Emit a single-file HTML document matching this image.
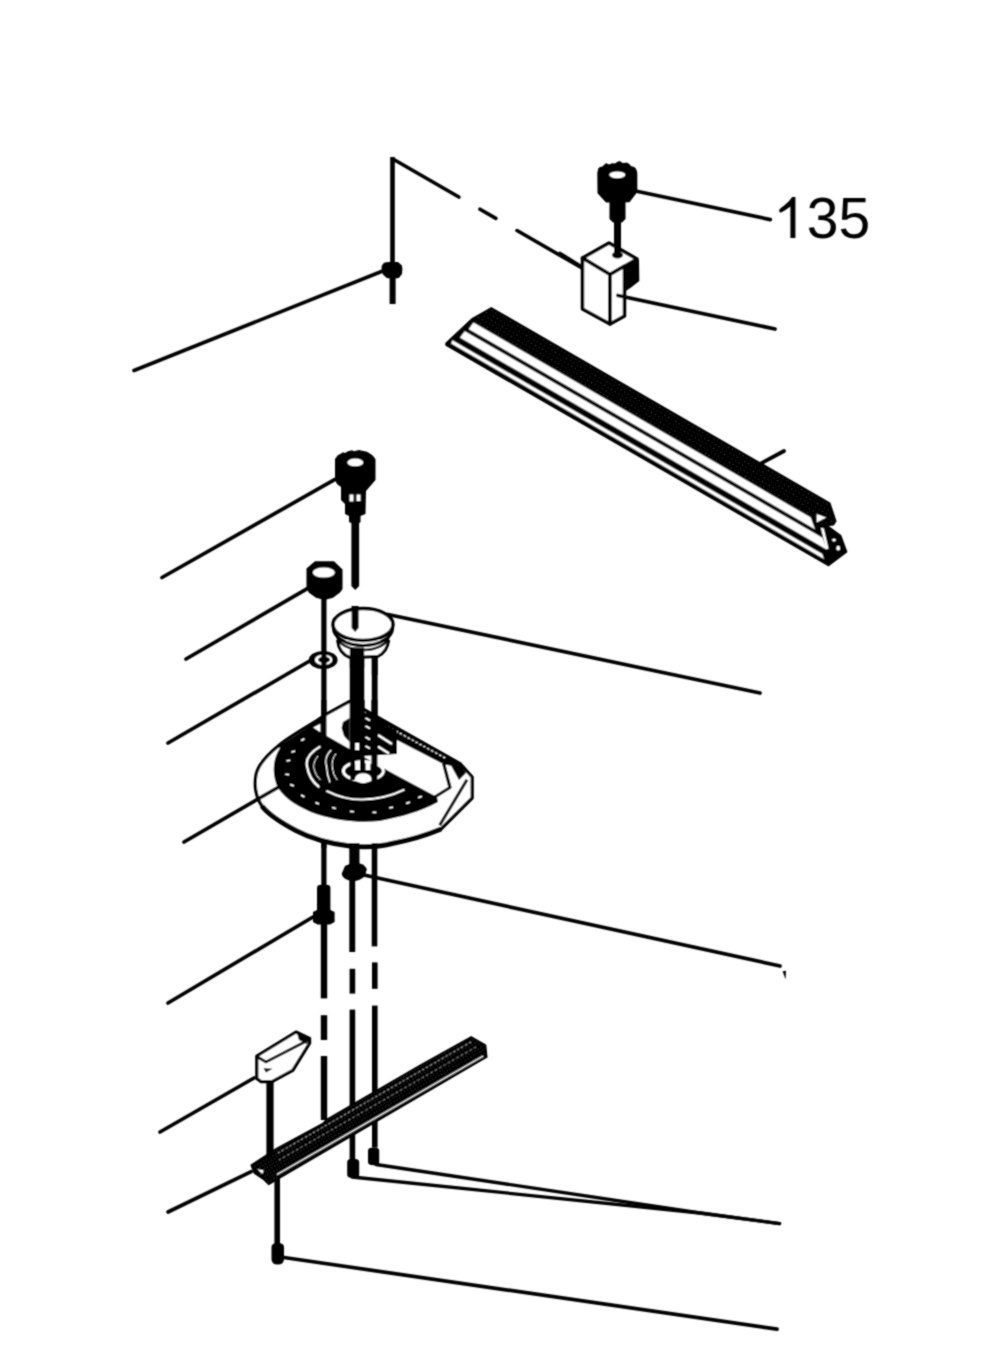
<!DOCTYPE html>
<html><head><meta charset="utf-8"><style>
html,body{margin:0;padding:0;background:#fff;}
svg{display:block;}
</style></head><body>
<svg width="1000" height="1362" viewBox="0 0 1000 1362">
<defs>
<filter id="soft" x="0" y="0" width="1000" height="1362" filterUnits="userSpaceOnUse"><feConvolveMatrix order="3" kernelMatrix="1 2 1 2 8 2 1 2 1" divisor="20" edgeMode="duplicate"/></filter>
<pattern id="stip" width="4.2" height="4.2" patternUnits="userSpaceOnUse" patternTransform="rotate(30)">
<rect width="4.2" height="4.2" fill="#000"/><circle cx="2.1" cy="2.1" r="0.6" fill="#363636"/></pattern>
<pattern id="stip2" width="3.4" height="3.4" patternUnits="userSpaceOnUse" patternTransform="rotate(-30)">
<rect width="3.4" height="3.4" fill="#000"/><circle cx="1.7" cy="1.7" r="0.6" fill="#444"/></pattern>
</defs>
<rect width="1000" height="1362" fill="#fff"/>
<g filter="url(#soft)">
<rect x="390.2" y="157" width="4.6" height="110" fill="#000"/>
<rect x="389.6" y="270" width="6" height="34" fill="#000"/>
<path d="M392.5,158.8 L582,268" stroke="#000" stroke-width="3.6" fill="none" stroke-linecap="round" stroke-dasharray="76.6 24.4 18.3 24.4 200"/>
<line x1="134" y1="370.5" x2="384" y2="270.5" stroke="#000" stroke-width="3.6" stroke-linecap="round" />
<polygon points="381.6,266.0 384.0,262.8 388.0,262.0 398.0,262.0 401.6,265.2 402.4,268.0 402.0,274.0 398.8,278.0 392.4,278.8 386.8,278.0 383.2,274.8 381.6,271.6" fill="#000" />
<polygon points="597.3,173.0 598.2,168.5 600.0,167.0 602.5,166.4 604.5,164.6 606.2,163.0 608.0,164.3 610.0,164.2 612.0,163.3 615.0,163.4 617.5,161.8 620.0,160.9 622.0,162.8 624.5,163.0 626.5,162.6 629.0,163.8 631.2,166.2 633.5,166.8 635.5,168.0 637.0,171.2 637.3,174.0 637.3,192.0 629.5,202.3 606.0,202.5 597.5,193.2" fill="#000" />
<ellipse cx="617.3" cy="174.8" rx="8" ry="3.4" fill="#fff"/>
<path d="M609.5,201 L625.5,201 L625.5,219 L622,222.5 L613,222.5 L609.5,219 Z" fill="#000"/>
<rect x="614" y="221" width="7" height="34" fill="#000"/>
<line x1="636.8" y1="191.3" x2="770.3" y2="219.6" stroke="#000" stroke-width="3.7" stroke-linecap="round" />
<path d="M790.4,238 L790.4,206.5 Q786,210 781.5,212.3 Q778.6,213 779.3,209.8 Q780.6,207.8 784.5,205.2 Q789.2,201.8 792.2,197 L795.4,197 L795.4,238 Z" fill="#000"/>
<text x="806.7" y="237.5" font-family="Liberation Sans, sans-serif" font-size="57" fill="#000">35</text>
<path d="M582.5,258 L609,243 L637,259 L610,274.5 Z" fill="#fff" stroke="#000" stroke-width="3.5" stroke-linejoin="round"/>
<path d="M582.5,258 L610,274.5 L610,324 L582.5,309 Z" fill="#fff" stroke="#000" stroke-width="3.5" stroke-linejoin="round"/>
<path d="M610,274.5 L624.5,266 L624.5,316 L610,324 Z" fill="#fff" stroke="#000" stroke-width="3.5" stroke-linejoin="round"/>
<polygon points="624.0,266.5 637.0,259.0 639.0,260.0 639.3,281.0 631.0,287.5 626.5,290.5 624.0,291.0" fill="#000" />
<ellipse cx="617.5" cy="255" rx="5.5" ry="3.5" fill="#000"/>
<rect x="614" y="240" width="7" height="15" fill="#000"/>
<line x1="560" y1="253.5" x2="581" y2="266.5" stroke="#000" stroke-width="3.7" stroke-linecap="round" />
<line x1="618" y1="295.5" x2="775" y2="329" stroke="#000" stroke-width="3.7" stroke-linecap="round" />
<polygon points="491.3,307.8 829.8,503.2 835.8,521.2 833.4,524.8 827.0,525.5 840.6,535.6 846.6,551.8 828.6,565.5 446.0,345.1 446.0,343.2 472.4,318.6" fill="url(#stip)" stroke="#000" stroke-width="1.5" stroke-linejoin="round"/>
<polygon points="470.0,320.8 829.0,528.3 840.6,535.6 846.6,551.8 828.6,565.5 446.0,345.1 446.0,343.2 466.0,324.0" fill="#000" />
<polygon points="473.5,322.8 810.5,517.6 814.5,528.7 469.0,329.0" fill="#fff" stroke="#fff" stroke-width="0.6" stroke-linejoin="round"/>
<polygon points="464.8,331.4 822.5,538.1 826.5,549.2 460.3,337.6" fill="#fff" stroke="#fff" stroke-width="0.6" stroke-linejoin="round"/>
<polygon points="452.5,340.6 822.0,554.1 823.5,558.4 451.5,343.4" fill="#fff" stroke="#fff" stroke-width="0.6" stroke-linejoin="round"/>
<polygon points="816.6,514.0 826.2,517.6 816.6,522.4" fill="#fff" />
<polygon points="820.8,527.8 823.8,528.4 828.6,548.8 826.0,549.0" fill="#fff" />
<ellipse cx="834" cy="540" rx="1.8" ry="1.6" fill="#fff"/>
<ellipse cx="838.2" cy="548.2" rx="1.8" ry="2.4" fill="#fff"/>
<line x1="760" y1="464" x2="784" y2="451" stroke="#000" stroke-width="3.7" stroke-linecap="round" />
<polygon points="335.0,459.0 338.0,455.0 340.0,454.2 343.0,452.3 345.0,453.0 348.0,451.3 352.0,450.3 354.0,451.2 359.0,450.0 362.0,450.8 367.0,451.8 369.0,453.0 372.0,455.0 374.0,457.0 375.5,459.5 375.5,480.0 366.0,491.0 365.5,514.0 360.5,516.0 360.5,522.0 359.3,523.0 351.2,523.0 349.0,522.0 349.0,516.0 345.0,514.0 345.0,504.0 341.0,500.0 341.0,487.0 337.0,484.0 335.0,480.0" fill="#000" />
<ellipse cx="355.3" cy="462.4" rx="7.9" ry="3.9" fill="#fff"/>
<rect x="349.5" y="494.5" width="4" height="7" fill="#fff"/><rect x="356.5" y="494.5" width="4" height="6.5" fill="#fff"/>
<path d="M351.4,520 L359.1,520 L359.1,586 L355.2,590 L351.4,586 Z" fill="#000"/>
<line x1="335" y1="479.4" x2="162" y2="577.5" stroke="#000" stroke-width="3.7" stroke-linecap="round" />
<polygon points="315.0,561.3 334.0,561.3 342.5,569.5 342.5,589.0 340.0,592.5 333.0,597.8 324.5,600.0 316.0,597.8 309.0,592.8 306.5,588.5 306.5,568.5" fill="#000" />
<ellipse cx="323.8" cy="572.6" rx="11" ry="5" fill="#fff"/>
<line x1="307.3" y1="588.6" x2="186" y2="659" stroke="#000" stroke-width="3.7" stroke-linecap="round" />
<rect x="321.3" y="598" width="5.2" height="250" fill="#000"/>
<ellipse cx="323.2" cy="660" rx="14.4" ry="9.1" fill="#000"/>
<ellipse cx="323.6" cy="659.8" rx="8.8" ry="5.4" fill="#fff"/>
<ellipse cx="324.1" cy="659.8" rx="5.9" ry="3.2" fill="#000"/>
<rect x="321.3" y="652" width="5.2" height="16" fill="#000"/>
<line x1="309.6" y1="661" x2="168" y2="743" stroke="#000" stroke-width="3.7" stroke-linecap="round" />
<rect x="349.8" y="640" width="14.4" height="140" fill="#000"/>
<rect x="371.8" y="652" width="5.8" height="140" fill="#000"/>
<path d="M337.5,640 C338.5,649 343,655 350,657.5 L377.6,656.5 C383,654 387.5,649 388.8,640" fill="#fff" stroke="#000" stroke-width="3"/>
<rect x="349.8" y="647.5" width="14.4" height="20" fill="#000"/>
<rect x="371.8" y="655" width="5.8" height="20" fill="#000"/>
<ellipse cx="363" cy="624.5" rx="30" ry="16" fill="#fff" stroke="#000" stroke-width="3.5"/>
<path d="M333.4,628 A29.6,17.5 0 0 0 392.6,628" fill="none" stroke="#000" stroke-width="3"/>
<path d="M337.5,636 A25.5,14 0 0 0 388.5,636" fill="none" stroke="#000" stroke-width="2.6"/>
<path d="M351.6,606 L358.6,606 L358.6,628 L355.1,632 L351.6,628 Z" fill="#000"/>
<line x1="388" y1="614.5" x2="760" y2="693" stroke="#000" stroke-width="3.7" stroke-linecap="round" />
<path d="M349.6,701.4 L326.4,714.2 L317.2,720.4 C300,731 288,738 280,744.4 C268,754 258,764 256,775 C254,786 256,797 262,806 C268,814 280,822 296,830.5 C312,839 330,843.5 350,846 C365,847.5 380,846.5 392,843.5 C410,840 428,834.5 441,829 L472.2,798 L472.2,777 L460.5,764 Z" fill="#fff" stroke="#000" stroke-width="3.2" stroke-linejoin="round"/>
<path d="M262,806 C268,814 280,822 296,830.5 C312,839 330,843.5 350,846 C365,847.5 380,846.5 392,843.5 C410,840 428,834.5 441,829" fill="none" stroke="#000" stroke-width="5"/>
<polygon points="365.6,709.5 460.5,762.6 452.0,766.0 443.6,764.2 376.0,729.2 366.0,722.0" fill="#000" />
<path d="M372,718 L447,759" stroke="#fff" stroke-width="1.2" stroke-dasharray="2.5 2"/>
<polygon points="364.0,712.0 397.0,731.0 397.0,754.0 364.0,756.0" fill="#000" />
<path d="M378,735 L392,744" stroke="#fff" stroke-width="2.4"/>
<path d="M378,746.5 L389,753.5" stroke="#fff" stroke-width="2.4"/>
<path d="M365.5,718 L370,720.5 M365.5,726 L370,728.5 M365.5,737 L370,739.5 M365.5,746 L370,748.5" stroke="#fff" stroke-width="2"/>
<path d="M443.6,763.5 L450,787.5 L433.2,798" fill="none" stroke="#000" stroke-width="3.2" stroke-linejoin="round"/>
<path d="M467,779.7 L439.7,825.2" stroke="#000" stroke-width="3"/>
<polygon points="450.0,763.5 460.5,764.0 466.0,773.0 459.0,780.0 454.0,771.0" fill="#000" />
<path d="M278.5,746.5 L321.5,718.8 L326.4,735.8 L348.8,748.6 L394,774 L437,797 L438,802 C420,812 402,816.5 380,821 C360,823 340,821.5 316,814 C300,808 286,800 278,788 C272,776 272,760 280,748 Z" fill="#000"/>
<polygon points="313.2,727.4 320.4,723.8 320.4,732.2" fill="#fff" />
<path d="M320.4,746.4 Q304,756 307.2,767 Q309,779 319.2,787.2" fill="none" stroke="#fff" stroke-width="2.2"/>
<path d="M318,756 Q312,763 314.4,770.4 Q316,776 320.4,780" fill="none" stroke="#fff" stroke-width="1"/>
<path d="M331.2,750 Q324,757 326.4,765.6 Q327,775 330,782.4" fill="none" stroke="#fff" stroke-width="1.3"/>
<path d="M336,753.6 Q331,760 332.4,768 Q333,775 337.2,780" fill="none" stroke="#fff" stroke-width="1"/>
<path d="M326.4,790.8 Q345,800 362.4,799.6 Q385,799 404.4,789.6" fill="none" stroke="#fff" stroke-width="2"/>
<ellipse cx="363.4" cy="771" rx="20" ry="9.5" fill="none" stroke="#fff" stroke-width="3"/>
<rect x="349.6" y="700" width="15" height="60" fill="#000"/>
<polygon points="349.6,718.0 343.0,722.0 341.6,728.0 344.0,736.0 349.6,742.0" fill="#000" />
<rect x="350.4" y="758" width="4.8" height="22" fill="#000"/>
<rect x="360" y="758" width="4.8" height="22" fill="#000"/>
<rect x="371.4" y="700" width="6" height="85" fill="#000"/>
<rect x="355.2" y="743" width="4" height="7" fill="#fff"/>
<rect x="355.2" y="761" width="4.8" height="9" fill="#fff"/>
<rect x="365.6" y="761" width="4.8" height="9" fill="#fff"/>
<ellipse cx="363.2" cy="778.2" rx="8" ry="5" fill="#fff"/>
<rect x="321.3" y="700" width="5.2" height="46" fill="#000"/>
<rect x="300.90000000000003" y="738.75" width="3.8" height="1.7" fill="#fff" transform="rotate(-30 302.8 739.6)"/>
<rect x="291.3" y="750.75" width="3.8" height="1.7" fill="#fff" transform="rotate(-20 293.2 751.6)"/>
<rect x="286.5" y="759.75" width="3.8" height="1.7" fill="#fff" transform="rotate(-10 288.4 760.6)"/>
<rect x="285.3" y="773.55" width="3.8" height="1.7" fill="#fff" transform="rotate(5 287.2 774.4)"/>
<rect x="290.1" y="784.35" width="3.8" height="1.7" fill="#fff" transform="rotate(20 292 785.2)"/>
<rect x="300.90000000000003" y="795.15" width="3.8" height="1.7" fill="#fff" transform="rotate(30 302.8 796)"/>
<rect x="315.3" y="802.35" width="3.8" height="1.7" fill="#fff" transform="rotate(25 317.2 803.2)"/>
<rect x="332.1" y="807.15" width="3.8" height="1.7" fill="#fff" transform="rotate(15 334 808)"/>
<rect x="350.1" y="810.75" width="3.8" height="1.7" fill="#fff" transform="rotate(5 352 811.6)"/>
<rect x="372.5" y="811.55" width="3.8" height="1.7" fill="#fff" transform="rotate(0 374.4 812.4)"/>
<rect x="389.3" y="806.75" width="3.8" height="1.7" fill="#fff" transform="rotate(-10 391.2 807.6)"/>
<rect x="406.1" y="801.9499999999999" width="3.8" height="1.7" fill="#fff" transform="rotate(-20 408 802.8)"/>
<rect x="418.1" y="796.15" width="3.8" height="1.7" fill="#fff" transform="rotate(-25 420 797)"/>
<line x1="277" y1="788" x2="184" y2="842" stroke="#000" stroke-width="3.7" stroke-linecap="round" />
<path d="M317,888 Q317,884.8 321,884.8 L326.4,884.8 Q330.4,884.8 330.4,888 L330.4,910 L334.6,912 L334.6,922 L330,924.5 L317.5,924.5 L313,922 L313,912 L317,910 Z" fill="#000"/>
<rect x="320.8" y="924" width="6.4" height="74.4" fill="#000"/>
<rect x="320.8" y="1015.2" width="6.4" height="24.8" fill="#000"/>
<rect x="320.8" y="1056" width="6.4" height="64" fill="#000"/>
<rect x="321.3" y="843" width="5.2" height="45" fill="#000"/>
<line x1="313" y1="917" x2="168" y2="1003" stroke="#000" stroke-width="3.7" stroke-linecap="round" />
<rect x="349.3" y="843" width="10.2" height="24" fill="#000"/>
<path d="M345,866 Q350,863 356,863 Q364,863 366.8,869 L365,876 Q360,881 353,881 Q343,880 341.6,874 Z" fill="#000"/>
<rect x="349.3" y="878" width="5.9" height="74" fill="#000"/>
<rect x="349.6" y="968.8" width="5.6" height="24.8" fill="#000"/>
<rect x="349.6" y="1009.6" width="5.6" height="150" fill="#000"/>
<line x1="364" y1="875" x2="780" y2="966" stroke="#000" stroke-width="3.7" stroke-linecap="round" />
<path d="M782.6,971.2 L786,970.8 L785.6,979.6 Z" fill="#000"/>
<rect x="371.7" y="843" width="5.6" height="103.4" fill="#000"/>
<rect x="372" y="962.4" width="5.6" height="26.4" fill="#000"/>
<rect x="372" y="1005.6" width="5.6" height="142" fill="#000"/>
<rect x="266.4" y="1078" width="7.2" height="90" fill="#000"/>
<path d="M256.8,1056 L296,1032 L309.6,1038.4 L309.6,1043.2 L292.8,1070.4 L272,1081.6 L260.8,1081.6 L256.8,1078.4 Z" fill="#fff" stroke="#000" stroke-width="3.2" stroke-linejoin="round"/>
<path d="M257.5,1057 L266,1062 L305.6,1041.6" fill="none" stroke="#000" stroke-width="2.8"/>
<path d="M263.5,1068.2 L272.5,1068.8 L266,1072.5 Z" fill="#000"/>
<path d="M297,1033 L309,1039 L307,1044 L299,1040 Z" fill="#000"/>
<line x1="254" y1="1078" x2="160" y2="1132" stroke="#000" stroke-width="3.7" stroke-linecap="round" />
<polygon points="471.2,1036.8 485.6,1045.2 486.8,1057.2 484.4,1058.4 276.8,1179.5 268.8,1184.4 264.0,1179.6 254.4,1173.2 251.2,1165.2 260.8,1158.8 276.8,1148.5 323.0,1123.5 326.0,1120.0 420.0,1065.3" fill="url(#stip2)" stroke="#000" stroke-width="1.5" stroke-linejoin="round"/>
<path d="M483.2,1056 L277,1174.5" stroke="#fff" stroke-width="1.4"/>
<path d="M471,1042 L278,1153" stroke="#bbb" stroke-width="0.9" stroke-dasharray="2.5 2"/>
<path d="M476,1047 L279,1160" stroke="#999" stroke-width="0.9" stroke-dasharray="2.5 2.5"/>
<polygon points="257.4,1169 263.8,1170.6 262.2,1174" fill="#fff"/>
<line x1="251.2" y1="1171.6" x2="168" y2="1212" stroke="#000" stroke-width="3.7" stroke-linecap="round" />
<rect x="274.4" y="1178" width="5.6" height="66" fill="#000"/>
<path d="M271.5,1247 Q271.5,1243 277.7,1243 Q284,1243 284,1247 L284,1259 Q284,1264.5 277.7,1264.5 Q271.5,1264.5 271.5,1259 Z" fill="#000"/>
<line x1="284" y1="1257.5" x2="777" y2="1329.2" stroke="#000" stroke-width="3.7" stroke-linecap="round" />
<path d="M347.2,1162 Q347.2,1158.8 353,1158.8 Q359.2,1158.8 359.2,1162 L359.2,1175 Q359,1178 353,1178 Q347.2,1178 347.2,1175 Z" fill="#000"/>
<path d="M368,1150.5 Q368,1147.6 373.6,1147.6 Q379.2,1147.6 379.2,1150.5 L379.2,1162 Q379,1165.2 373.6,1165.2 Q368,1165.2 368,1162 Z" fill="#000"/>
<path d="M352,1177 L700,1213 L779.6,1223.6" stroke="#000" stroke-width="3.3" fill="none" stroke-linejoin="round" stroke-linecap="round"/>
<path d="M376,1164.5 L700,1213 L779.6,1223.6" stroke="#000" stroke-width="3.3" fill="none" stroke-linejoin="round" stroke-linecap="round"/>
</g>
</svg>
</body></html>
